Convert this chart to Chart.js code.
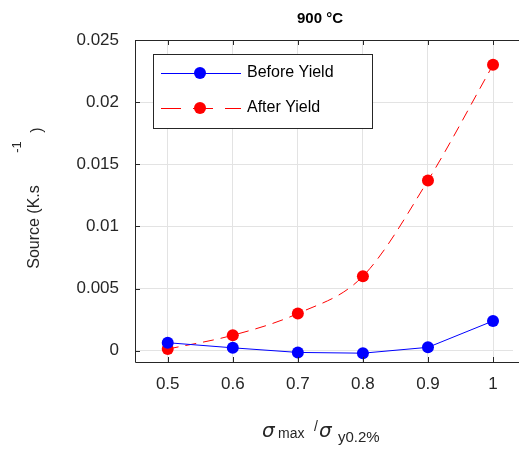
<!DOCTYPE html>
<html>
<head>
<meta charset="utf-8">
<script src="https://cdn.jsdelivr.net/npm/chart.js@4/dist/chart.umd.min.js"></script>
<style>
  body { margin: 0; background: #fff; }
  #wrap { width: 519px; height: 450px; }
</style>
</head>
<body>
<div id="wrap"><canvas id="grafica" width="519" height="450"></canvas></div>
<script>
const ratios = [0.5, 0.6, 0.7, 0.8, 0.9, 1.0];
const beforeYield = [0.00065, 0.00024, -0.00013, -0.00019, 0.00028, 0.0024];
const afterYield = [0.00014, 0.00125, 0.0030, 0.0060, 0.0137, 0.0230];
const xTicks = [0.5, 0.6, 0.7, 0.8, 0.9, 1];
const yTicks = [0, 0.005, 0.01, 0.015, 0.02, 0.025];
const yTickLabels = ['0', '0.005', '0.01', '0.015', '0.02', '0.025'];

const FONT = '"Liberation Sans", Arial, sans-serif';
const GREEK = '"DejaVu Sans", sans-serif';
const TXT = '#262626';

// ticks hacia dentro, titulo, leyenda y etiquetas de ejes
const decoraciones = {
    id: 'decoraciones',
    afterDraw(chart) {
        const ctx = chart.ctx;
        const a = chart.chartArea;
        const sx = chart.scales.x, sy = chart.scales.y;
        const derecha = chart.width;
        ctx.save();
        // ejes
        ctx.strokeStyle = '#262626';
        ctx.lineWidth = 1;
        ctx.beginPath();
        ctx.moveTo(derecha, a.top + 0.5);
        ctx.lineTo(a.left + 0.5, a.top + 0.5);
        ctx.lineTo(a.left + 0.5, a.bottom + 0.5);
        ctx.lineTo(derecha, a.bottom + 0.5);
        xTicks.forEach(v => {
            const px = Math.round(sx.getPixelForValue(v)) + 0.5;
            ctx.moveTo(px, a.bottom); ctx.lineTo(px, a.bottom - 5);
            ctx.moveTo(px, a.top); ctx.lineTo(px, a.top + 5);
        });
        yTicks.forEach(v => {
            const py = Math.round(sy.getPixelForValue(v)) + 0.5;
            ctx.moveTo(a.left, py); ctx.lineTo(a.left + 5, py);
        });
        ctx.stroke();

        // titulo
        ctx.fillStyle = '#000';
        ctx.font = 'bold 15px ' + FONT;
        ctx.textAlign = 'center';
        ctx.textBaseline = 'alphabetic';
        ctx.fillText('900 °C', 320, 23);

        // leyenda
        ctx.fillStyle = '#fff';
        ctx.fillRect(153, 54, 219, 74);
        ctx.strokeStyle = '#262626';
        ctx.strokeRect(153.5, 54.5, 219, 74);
        const filas = [
            {y: 73, color: '#0000ff', dash: [], label: 'Before Yield'},
            {y: 108, color: '#ff0000', dash: [20, 12], label: 'After Yield'}
        ];
        filas.forEach(f => {
            ctx.strokeStyle = f.color;
            ctx.lineWidth = 1;
            ctx.setLineDash(f.dash);
            ctx.beginPath();
            ctx.moveTo(161, f.y + 0.5); ctx.lineTo(241, f.y + 0.5);
            ctx.stroke();
            ctx.setLineDash([]);
            ctx.fillStyle = f.color;
            ctx.beginPath();
            ctx.arc(200, f.y, 6, 0, Math.PI * 2);
            ctx.fill();
            ctx.fillStyle = '#000';
            ctx.font = '16px ' + FONT;
            ctx.textAlign = 'left';
            ctx.textBaseline = 'middle';
            ctx.fillText(f.label, 247, f.y);
        });

        // etiqueta eje y
        ctx.fillStyle = TXT;
        ctx.font = '16px ' + FONT;
        ctx.save();
        ctx.translate(39, 227);
        ctx.rotate(-Math.PI / 2);
        ctx.textAlign = 'center';
        ctx.textBaseline = 'alphabetic';
        ctx.fillText('Source (K.s', 0, 0);
        ctx.font = '13px ' + FONT;
        ctx.fillText('-1', 80, -18);
        ctx.font = '16px ' + FONT;
        ctx.fillText(')', 97, 3);
        ctx.restore();

        // etiqueta eje x
        ctx.textAlign = 'left';
        ctx.textBaseline = 'alphabetic';
        ctx.font = 'oblique 20px ' + GREEK;
        ctx.fillText('σ', 262, 437);
        ctx.font = '14px ' + FONT;
        ctx.fillText('max', 278, 438);
        ctx.fillText('/', 314, 431);
        ctx.font = 'oblique 20px ' + GREEK;
        ctx.fillText('σ', 319, 437);
        ctx.font = '15px ' + FONT;
        ctx.fillText('y0.2%', 338, 442);
        ctx.restore();
    }
};

new Chart('grafica', {
    type: 'line',
    data: {
        datasets: [
            {
                label: 'Before Yield',
                data: ratios.map((x, i) => ({x: x, y: beforeYield[i]})),
                borderColor: '#0000ff',
                backgroundColor: '#0000ff',
                borderWidth: 1,
                pointRadius: 6,
                pointBorderWidth: 0,
                tension: 0
            },
            {
                label: 'After Yield',
                data: ratios.map((x, i) => ({x: x, y: afterYield[i]})),
                borderColor: '#ff0000',
                backgroundColor: '#ff0000',
                borderWidth: 1,
                borderDash: [11, 7],
                pointRadius: 6,
                pointBorderWidth: 0,
                cubicInterpolationMode: 'monotone'
            }
        ]
    },
    options: {
        responsive: false,
        animation: false,
        layout: {padding: {top: 40, right: 0, left: 0, bottom: 0}},
        plugins: {
            legend: {display: false},
            title: {display: false},
            tooltip: {enabled: false}
        },
        scales: {
            x: {
                type: 'linear',
                min: 0.4497,
                max: 1.0307,
                afterBuildTicks: s => { s.ticks = xTicks.map(v => ({value: v})); },
                afterFit: s => { s.height = 88; },
                grid: {color: '#e3e3e3', drawTicks: false},
                border: {display: false},
                ticks: {
                    color: TXT,
                    font: {family: FONT, size: 17},
                    padding: 12,
                    maxRotation: 0,
                    callback: v => String(v)
                }
            },
            y: {
                type: 'linear',
                min: -0.0009,
                max: 0.025,
                afterBuildTicks: s => { s.ticks = yTicks.map(v => ({value: v})); },
                afterFit: s => { s.width = 135; },
                grid: {color: '#e3e3e3', drawTicks: false},
                border: {display: false},
                ticks: {
                    color: TXT,
                    font: {family: FONT, size: 17},
                    padding: 16,
                    callback: (v) => yTickLabels[yTicks.indexOf(v)] !== undefined ? yTickLabels[yTicks.indexOf(v)] : ''
                }
            }
        }
    },
    plugins: [decoraciones]
});
</script>
</body>
</html>
